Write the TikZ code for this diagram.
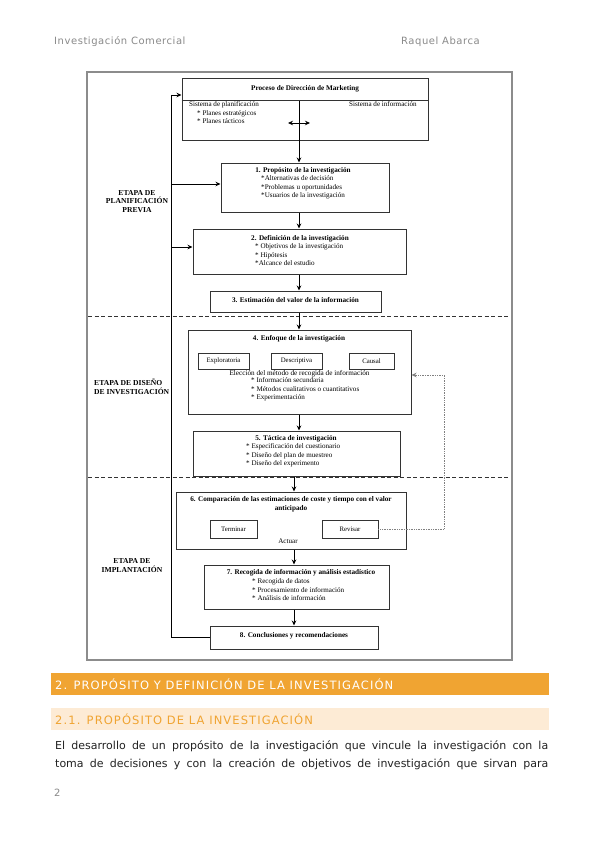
\documentclass[tikz,border=0pt]{standalone}
\usepackage{fontspec}
\setmainfont{DejaVu Sans}
\newfontfamily\diagfont{Liberation Serif}
\newfontfamily\spacedfont[LetterSpace=9.5]{DejaVu Sans}
\newfontfamily\headfont[LetterSpace=5.5]{DejaVu Sans}
\usetikzlibrary{arrows.meta,positioning,calc}
\definecolor{framegray}{HTML}{8C8C8C}
\definecolor{headgray}{HTML}{8A8A8A}
\definecolor{inkgray}{HTML}{333333}
\definecolor{barorange}{HTML}{F0A432}
\definecolor{barlight}{HTML}{FDEBD5}
\definecolor{bodytext}{HTML}{222222}
\tikzset{
  stagebox/.style={draw=inkgray, line width=1pt, inner sep=0pt},
  optbox/.style={draw=inkgray, line width=0.8pt, inner sep=0pt,
    font=\diagfont\fontsize{6.8}{8}\selectfont},
  boxtitle/.style={font=\diagfont\bfseries\fontsize{7.2}{8.8}\selectfont,
    align=center, inner sep=0pt},
  boxitems/.style={font=\diagfont\fontsize{7.1}{8.6}\selectfont,
    align=left, anchor=north west, inner sep=0pt},
  stagelabel/.style={font=\diagfont\bfseries\fontsize{7.6}{8.6}\selectfont,
    inner sep=0pt},
  arr/.style={-{Stealth[length=5pt,width=4.5pt]}, line width=0.8pt, draw=black},
  dblarr/.style={{Stealth[length=5pt,width=4.5pt]}-{Stealth[length=5pt,width=4.5pt]},
    line width=0.8pt, draw=black},
  fbarr/.style={-{Stealth[length=5pt,width=4.5pt]}, densely dotted,
    line width=0.7pt, draw=gray},
  phase/.style={dash pattern=on 4pt off 2.5pt, line width=0.9pt, draw=inkgray},
  pagetext/.style={inner sep=0pt, anchor=west}
}

\begin{document}
\begin{tikzpicture}[x=1pt, y=-1pt]
  \useasboundingbox[fill=white] (0,0) rectangle (599,848);

  % page header
  \node[pagetext, text=headgray, font=\headfont\fontsize{10}{12}\selectfont] (hleft) at (54,42) {Investigación Comercial};
  \node[pagetext, text=headgray, font=\headfont\fontsize{10}{12}\selectfont] (hright) at (401,42) {Raquel Abarca};

  % frame of the figure
  \draw[framegray, line width=1.3pt] (87,72) rectangle (512,660);

  % columns for the arrows
  \coordinate (colA) at (299,0);
  \coordinate (colB) at (294,0);
  \coordinate (spine) at (171,0);
  \coordinate (fb) at (444,0);

  % boxes
  \node[stagebox, minimum width=246, minimum height=61] (mkt) at (305,109.5) {};
  \node[stagebox, minimum width=168, minimum height=49] (b1) at (305,187.5) {};
  \node[stagebox, minimum width=213, minimum height=45] (b2) at (299.5,251.5) {};
  \node[stagebox, minimum width=171, minimum height=21] (b3) at (295.5,301.5) {};
  \node[stagebox, minimum width=223, minimum height=84] (b4) at (299.5,372) {};
  \node[stagebox, minimum width=207, minimum height=45] (b5) at (296.5,453.5) {};
  \node[stagebox, minimum width=230, minimum height=57] (b6) at (291,520.5) {};
  \node[stagebox, minimum width=185, minimum height=44] (b7) at (296.5,587) {};
  \node[stagebox, minimum width=168, minimum height=23] (b8) at (294,637.5) {};

  % Proceso de Direccion de Marketing
  \coordinate (mktsplit) at (0,101);
  \draw[inkgray, line width=1pt] (mkt.west |- mktsplit) -- (mkt.east |- mktsplit);
  \draw[line width=0.8pt] (colA |- mktsplit) -- (colA |- mkt.south);
  \node[boxtitle] (mkttitle) at (305,89) {Proceso de Dirección de Marketing};
  \node[boxitems] (plan) at (189,101.5) {Sistema de planificación};
  \node[boxitems] (planitems) at (197,110) {* Planes estratégicos\\* Planes tácticos};
  \node[boxitems] (info) at (349,101.5) {Sistema de información};
  \coordinate (swl) at (288,123);
  \coordinate (swr) at (310,123);
  \draw[dblarr] (swl) -- (swr);

  % 1
  \node[boxtitle] (t1) at (303,171) {1. Propósito de la investigación};
  \node[boxitems] (i1) at (261,175.5) {*Alternativas de decisión\\*Problemas u oportunidades\\*Usuarios de la investigación};
  % 2
  \node[boxtitle] (t2) at (300,239) {2. Definición de la investigación};
  \node[boxitems] (i2) at (255,243.5) {* Objetivos de la investigación\\* Hipótesis\\*Alcance del estudio};
  % 3
  \node[boxtitle] (t3) at (295.5,300) {3. Estimación del valor de la información};
  % 4
  \node[boxtitle] (t4) at (299,339) {4. Enfoque de la investigación};
  \node[optbox, minimum width=51, minimum height=16] (expl) at (223.5,361) {Exploratoria};
  \node[optbox, minimum width=51, minimum height=16] (desc) at (296.5,361) {Descriptiva};
  \node[optbox, minimum width=45, minimum height=16] (caus) at (371.5,361) {Causal};
  \node[boxitems, anchor=center, font=\diagfont\fontsize{7.2}{8.6}\selectfont] (metodo) at (299.5,373.5) {Elección del método de recogida de información};
  \node[boxitems] (i4) at (251,377.5) {* Información secundaria\\* Métodos cualitativos o cuantitativos\\* Experimentación};
  % 5
  \node[boxtitle] (t5) at (296,439) {5. Táctica de investigación};
  \node[boxitems] (i5) at (246,443.5) {* Especificación del cuestionario\\* Diseño del plan de muestreo\\* Diseño del experimento};
  % 6
  \node[boxtitle] (t6) at (291,504.5) {6. Comparación de las estimaciones de coste y tiempo con el valor\\anticipado};
  \node[optbox, minimum width=47, minimum height=18] (term) at (233.5,529) {Terminar};
  \node[optbox, minimum width=56, minimum height=18] (rev) at (350,529) {Revisar};
  \node[boxitems, anchor=center] (actuar) at (288,541) {Actuar};
  % 7
  \node[boxtitle] (t7) at (301,573) {7. Recogida de información y análisis estadístico};
  \node[boxitems] (i7) at (252,578.5) {* Recogida de datos\\* Procesamiento de información\\* Análisis de información};
  % 8
  \node[boxtitle] (t8) at (294,636) {8. Conclusiones y recomendaciones};

  % stage labels
  \node[stagelabel, align=center] (etapa1) at (137,201.5) {ETAPA DE\\PLANIFICACIÓN\\PREVIA};
  \node[stagelabel, align=left, anchor=west] (etapa2) at (94,387) {ETAPA DE DISEÑO\\DE INVESTIGACIÓN};
  \node[stagelabel, align=center] (etapa3) at (132,565.5) {ETAPA DE\\IMPLANTACIÓN};

  % stage separators
  \draw[phase] (88,316) -- (510,316);
  \draw[phase] (88,477) -- (510,477);

  % flow
  \draw[arr] (colA |- mkt.south) -- (colA |- b1.north);
  \draw[arr] (colA |- b1.south) -- (colA |- b2.north);
  \draw[arr] (colA |- b2.south) -- (colA |- b3.north);
  \draw[arr] (colA |- b3.south) -- (colA |- b4.north);
  \draw[arr] (colA |- b4.south) -- (colA |- b5.north);
  \draw[arr] (colB |- b5.south) -- (colB |- b6.north);
  \draw[arr] (colB |- b6.south) -- (colB |- b7.north);
  \draw[arr] (colB |- b7.south) -- (colB |- b8.north);

  % left spine
  \coordinate (mktin) at (mkt.west |- 0,95);
  \draw[line width=0.8pt] (spine |- mktin) -- (spine |- b8.west) -- (b8.west);
  \draw[arr] (spine |- mktin) -- (mktin);
  \draw[arr] (spine |- 0,184) -- (b1.west |- 0,184);
  \draw[arr] (spine |- 0,247) -- (b2.west |- 0,247);

  % feedback Revisar -> 4
  \draw[fbarr] (rev.east) -- (rev.east -| fb) -- (fb |- 0,375) -- (b4.east |- 0,375);

  % section bars
  \node[fill=barorange, minimum width=498, minimum height=22, inner sep=0pt, anchor=north west] (sec2) at (51,673) {};
  \node[pagetext, text=white, font=\spacedfont\fontsize{11.5}{13}\selectfont] (sec2text) at (55,684.5) {2. PROPÓSITO Y DEFINICIÓN DE LA INVESTIGACIÓN};
  \node[fill=barlight, minimum width=498, minimum height=22, inner sep=0pt, anchor=north west] (sec21) at (51,708) {};
  \node[pagetext, text=barorange, font=\spacedfont\fontsize{11.5}{13}\selectfont] (sec21text) at (55,719) {2.1. PROPÓSITO DE LA INVESTIGACIÓN};

  % body text
  \node[pagetext, text=bodytext, font=\fontsize{11}{13}\selectfont] (body1) at (55,746) {\makebox[493pt][s]{El desarrollo de un propósito de la investigación que vincule la investigación con la}};
  \node[pagetext, text=bodytext, font=\fontsize{11}{13}\selectfont] (body2) at (55,764) {\makebox[493pt][s]{toma de decisiones y con la creación de objetivos de investigación que sirvan para}};

  % page number
  \node[pagetext, text=headgray, font=\fontsize{10}{12}\selectfont] (pnum) at (54,793) {2};
\end{tikzpicture}
\end{document}
